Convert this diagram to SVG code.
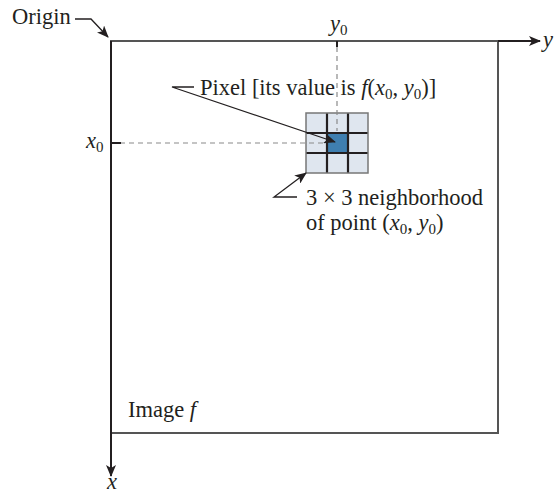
<svg xmlns="http://www.w3.org/2000/svg" width="556" height="495" viewBox="0 0 556 495">
<defs>
<style>
text{font-family:"Liberation Serif","Times New Roman",serif;font-size:22.5px;fill:#231f20}
.it{font-style:italic}
.sub{font-size:15px}
.box{fill:none;stroke:#555;stroke-width:2}
.axis{stroke:#231f20;stroke-width:2;fill:none}
.lead{stroke:#231f20;stroke-width:1.3;fill:none}
.dash{stroke:#8a8a8a;stroke-width:1.2;stroke-dasharray:5,4;fill:none}
.cell{fill:#dfe6ef}
.grid{stroke:#231f20;stroke-width:2.2;fill:none}
</style>
<marker id="ah" markerWidth="12" markerHeight="10" refX="11" refY="5" orient="auto" markerUnits="userSpaceOnUse">
<path d="M0,0 L12,5 L0,10 L3,5 Z" fill="#231f20"/>
</marker>
</defs>
<g id="image-box">
<rect class="box" x="111" y="41" width="387" height="392"/>
<text x="128" y="417">Image <tspan class="it">f</tspan></text>
</g>
<g id="neighborhood">
<rect class="cell" x="306" y="113" width="62" height="60"/>
<rect x="327" y="133" width="21" height="20" fill="#3f7fb0"/>
<path class="grid" d="M327,113V173M348,113V173M306,133H368M306,153H368"/>
<rect x="306" y="113" width="62" height="60" fill="none" stroke="#777" stroke-width="1.5"/>
</g>
<g id="connectors">
<path class="axis" d="M111,41V476" marker-end="url(#ah)"/>
<path class="axis" d="M498,41H540" marker-end="url(#ah)"/>
<path class="dash" d="M337,47V131"/>
<path class="dash" d="M120,143H326"/>
<path class="axis" d="M337,41V47" stroke-width="2.5"/>
<path class="axis" d="M111,143H121" stroke-width="2.5"/>
<path class="lead" d="M75,19H91L108,37" marker-end="url(#ah)"/>
<path class="lead" d="M194,87H172L335,142" marker-end="url(#ah)"/>
<path class="lead" d="M297,197H274L306,173" marker-end="url(#ah)"/>
</g>
<g id="labels">
<text x="12" y="24">Origin</text>
<text x="330" y="31"><tspan class="it">y</tspan><tspan class="sub" dy="4">0</tspan></text>
<text x="543" y="47" class="it">y</text>
<text x="86" y="148"><tspan class="it">x</tspan><tspan class="sub" dy="4">0</tspan></text>
<text x="107" y="489" class="it">x</text>
<text x="200" y="95">Pixel [its value is <tspan class="it">f</tspan>(<tspan class="it">x</tspan><tspan class="sub" dy="4">0</tspan><tspan dy="-4">, </tspan><tspan class="it">y</tspan><tspan class="sub" dy="4">0</tspan><tspan dy="-4">)]</tspan></text>
<text x="306" y="205">3 × 3 neighborhood</text>
<text x="306" y="230">of point (<tspan class="it">x</tspan><tspan class="sub" dy="4">0</tspan><tspan dy="-4">, </tspan><tspan class="it">y</tspan><tspan class="sub" dy="4">0</tspan><tspan dy="-4">)</tspan></text>
</g>
</svg>
